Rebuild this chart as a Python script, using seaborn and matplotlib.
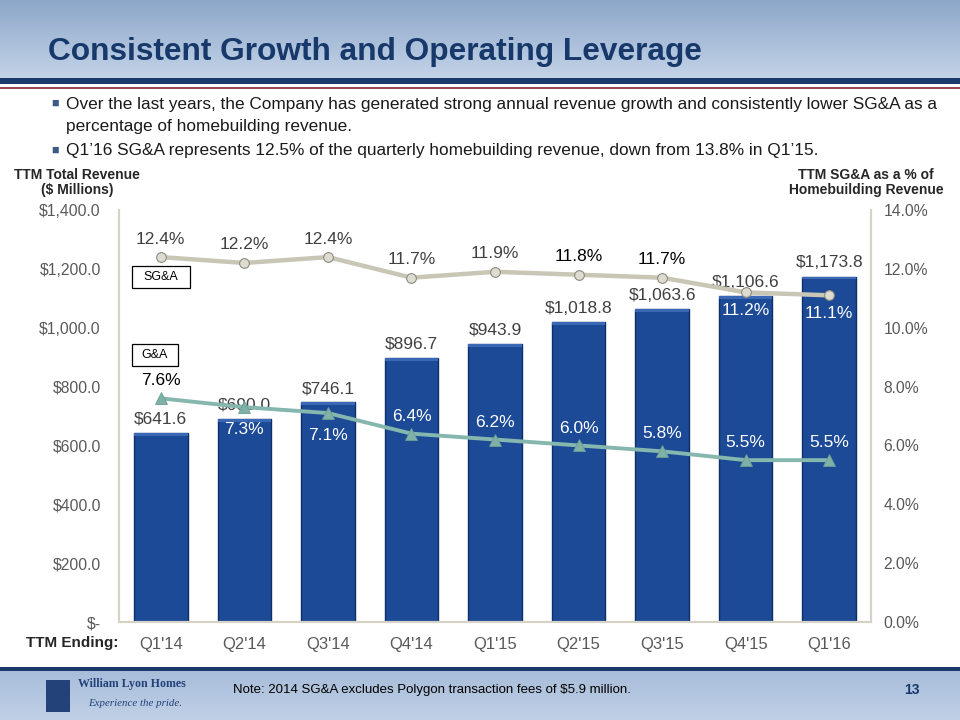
import numpy as np
import pandas as pd
import matplotlib
matplotlib.use("Agg")
import matplotlib.pyplot as plt
from matplotlib.patches import Rectangle
from matplotlib.colors import LinearSegmentedColormap
import seaborn as sns

# ---------------- data ----------------
quarters = ["Q1'14", "Q2'14", "Q3'14", "Q4'14", "Q1'15", "Q2'15", "Q3'15", "Q4'15", "Q1'16"]
revenue = [641.6, 690.0, 746.1, 896.7, 943.9, 1018.8, 1063.6, 1106.6, 1173.8]
sga_pct = [12.4, 12.2, 12.4, 11.7, 11.9, 11.8, 11.7, 11.2, 11.1]
ga_pct = [7.6, 7.3, 7.1, 6.4, 6.2, 6.0, 5.8, 5.5, 5.5]
left_ticks = [0, 200, 400, 600, 800, 1000, 1200, 1400]
left_tick_labels = ["$-", "$200.0", "$400.0", "$600.0", "$800.0", "$1,000.0", "$1,200.0", "$1,400.0"]
right_ticks = [0, 2, 4, 6, 8, 10, 12, 14]
right_tick_labels = ["0.0%", "2.0%", "4.0%", "6.0%", "8.0%", "10.0%", "12.0%", "14.0%"]

title = "Consistent Growth and Operating Leverage"
bullet1 = ("Over the last years, the Company has generated strong annual revenue growth and consistently lower SG&A as a",
           "percentage of homebuilding revenue.")
bullet2 = "Q1\u201916 SG&A represents 12.5% of the quarterly homebuilding revenue, down from 13.8% in Q1\u201915."
note = "Note: 2014 SG&A excludes Polygon transaction fees of $5.9 million."

# label styling (placement / colour per point)
sga_label_side = ["above"] * 7 + ["below", "below"]
sga_label_color = ["#404040"] * 5 + ["black", "black"] + ["white", "white"]
ga_label_side = ["above", "below", "below"] + ["above"] * 6
ga_label_color = ["black"] + ["white"] * 8

# ---------------- style ----------------
sns.set_style("white")
plt.rcParams["font.family"] = ["Liberation Sans", "DejaVu Sans"]

W, H = 960, 720
fig = plt.figure(figsize=(9.6, 7.2), dpi=100)

def fx(px):
    return px / W

def fy(py):
    return 1 - py / H

grad = np.linspace(0, 1, 100).reshape(-1, 1)

# header band gradient
hdr = fig.add_axes([0, fy(78), 1, 78 / H])
cm_h = LinearSegmentedColormap.from_list("h", ["#8DA7C9", "#C3D3E8"])
hdr.imshow(grad, aspect="auto", cmap=cm_h, extent=[0, 1, 0, 1])
hdr.axis("off")
fig.add_artist(Rectangle((0, fy(84)), 1, 6 / H, transform=fig.transFigure, color="#1B3A6B", lw=0))
fig.add_artist(Rectangle((0, fy(88.5)), 1, 1.5 / H, transform=fig.transFigure, color="#9A4550", lw=0))

# footer band
ftr = fig.add_axes([0, 0, 1, 52 / H])
cm_f = LinearSegmentedColormap.from_list("f", ["#A6BCD9", "#C0D0E6"])
ftr.imshow(grad, aspect="auto", cmap=cm_f, extent=[0, 1, 0, 1])
ftr.axis("off")
fig.add_artist(Rectangle((0, fy(671)), 1, 4 / H, transform=fig.transFigure, color="#1B3A6B", lw=0))

# title
fig.text(fx(48), fy(52), title, fontsize=22.8, fontweight="bold", color="#17386A", va="center", ha="left")

# bullets
bul_col = "#3B5A86"
fig.text(fx(51), fy(104), "\u25A0", fontsize=9, color=bul_col, va="center", ha="left")
fig.text(fx(66), fy(104), bullet1[0], fontsize=12.4, color="#1a1a1a", va="center", ha="left")
fig.text(fx(66), fy(126), bullet1[1], fontsize=12.4, color="#1a1a1a", va="center", ha="left")
fig.text(fx(51), fy(151), "\u25A0", fontsize=9, color=bul_col, va="center", ha="left")
fig.text(fx(66), fy(151), bullet2, fontsize=12.4, color="#1a1a1a", va="center", ha="left")

# axis headers
fig.text(fx(77), fy(175), "TTM Total Revenue", fontsize=10, fontweight="bold", ha="center", va="center")
fig.text(fx(77), fy(190), "($ Millions)", fontsize=10, fontweight="bold", ha="center", va="center")
fig.text(fx(866), fy(175), "TTM SG&A as a % of", fontsize=10, fontweight="bold", ha="center", va="center")
fig.text(fx(866), fy(190), "Homebuilding Revenue", fontsize=10, fontweight="bold", ha="center", va="center")
fig.text(fx(72), fy(643), "TTM Ending:", fontsize=11, fontweight="bold", ha="center", va="center")

# ---------------- chart ----------------
ax = fig.add_axes([fx(119), fy(622), fx(871) - fx(119), (622 - 210) / H])
df = pd.DataFrame({"quarter": quarters, "revenue": revenue, "sga": sga_pct, "ga": ga_pct})

sns.barplot(data=df, x="quarter", y="revenue", ax=ax, color="#1C4A96", width=0.64,
            edgecolor="#0E2F68", linewidth=1.0, saturation=1)
ax.set_ylim(0, 1400)
ax.set_xlim(-0.5, len(quarters) - 0.5)
ax.set_yticks(left_ticks)
ax.set_yticklabels(left_tick_labels)
ax.set_xlabel("")
ax.set_ylabel("")
ax.tick_params(axis="both", length=0, labelcolor="#595959")
ax.tick_params(axis="y", pad=13, labelsize=11.3)
ax.tick_params(axis="x", pad=11, labelsize=12)
ax.spines["top"].set_visible(False)
for s in ["left", "right", "bottom"]:
    ax.spines[s].set_color("#D6D3C6")
    ax.spines[s].set_linewidth(1.5)

# light top highlight on bars
for p in list(ax.patches):
    x0, w, h = p.get_x(), p.get_width(), p.get_height()
    ax.add_patch(Rectangle((x0, h - 9), w, 9, color="#3A68B4", lw=0, zorder=p.get_zorder() + 0.1))

# bar labels
for i, v in enumerate(revenue):
    ax.annotate(f"${v:,.1f}", xy=(i, v), xytext=(0, 10), textcoords="offset points",
                ha="center", va="center", fontsize=12.5, color="#404040", zorder=6)

ax2 = ax.twinx()
sns.pointplot(data=df, x="quarter", y="sga", ax=ax2, color="#C9C6B6", markers="o",
              markersize=7, linewidth=3.2, markeredgecolor="#8E8C80", markerfacecolor="#DEDBD0",
              markeredgewidth=0.8, errorbar=None)
sns.pointplot(data=df, x="quarter", y="ga", ax=ax2, color="#85B7AF", markers="^",
              markersize=8, linewidth=2.8, markeredgecolor="#6C9E96", markerfacecolor="#7FB1A9",
              markeredgewidth=0.6, errorbar=None)
ax2.set_ylim(0, 14)
ax2.set_xlim(-0.5, len(quarters) - 0.5)
ax2.set_yticks(right_ticks)
ax2.set_yticklabels(right_tick_labels)
ax2.set_xlabel("")
ax2.set_ylabel("")
ax2.tick_params(axis="y", length=0, labelsize=11.3, labelcolor="#595959", pad=9)
ax2.spines["top"].set_visible(False)
for s in ["left", "right", "bottom"]:
    ax2.spines[s].set_color("#D6D3C6")
    ax2.spines[s].set_linewidth(1.5)

for i, v in enumerate(sga_pct):
    off = 13 if sga_label_side[i] == "above" else -13
    ax2.annotate(f"{v:.1f}%", xy=(i, v), xytext=(0, off), textcoords="offset points",
                 ha="center", va="center", fontsize=12.5, color=sga_label_color[i], zorder=7)
for i, v in enumerate(ga_pct):
    off = 12.5 if ga_label_side[i] == "above" else -16
    ax2.annotate(f"{v:.1f}%", xy=(i, v), xytext=(0, off), textcoords="offset points",
                 ha="center", va="center", fontsize=12.5, color=ga_label_color[i], zorder=7)

# series boxes
for (lbl, yb, wb) in [("SG&A", 288, 58), ("G&A", 366, 46)]:
    x0 = (132 - 119) / 752
    y0 = (622 - yb) / 412
    ax2.add_patch(Rectangle((x0, y0), wb / 752, 22 / 412, transform=ax2.transAxes,
                            facecolor="white", edgecolor="black", lw=0.9, zorder=8))
    ax2.text(x0 + wb / 752 / 2, y0 + 11 / 412, lbl, transform=ax2.transAxes, ha="center",
             va="center", fontsize=9, color="black", zorder=9)

# ---------------- footer ----------------
fig.add_artist(Rectangle((fx(46), fy(712)), 24 / W, 32 / H, transform=fig.transFigure,
                         color="#23427A", lw=0))
fig.text(fx(78), fy(684), "William Lyon Homes", fontsize=8.6, fontweight="bold",
         family=["Liberation Serif", "DejaVu Serif"], color="#23427A", ha="left", va="center")
fig.text(fx(88), fy(703), "Experience the pride.", fontsize=7.8, style="italic",
         family=["Liberation Serif", "DejaVu Serif"], color="#23427A", ha="left", va="center")
fig.text(fx(233), fy(690), note, fontsize=9.5, color="black", ha="left", va="center")
fig.text(fx(912), fy(690), "13", fontsize=10, fontweight="bold", color="#17386A", ha="center", va="center")

fig.savefig("out.png", dpi=100)
